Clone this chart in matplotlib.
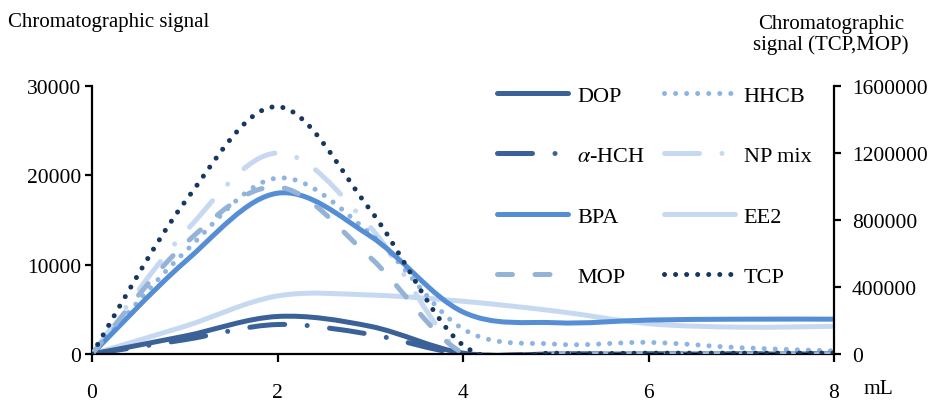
import numpy as np
import matplotlib
matplotlib.use("Agg")
import matplotlib.pyplot as plt
from matplotlib.path import Path
from matplotlib.patches import PathPatch
from matplotlib.lines import Line2D
from matplotlib.ticker import FuncFormatter

plt.rcParams['font.family'] = ['Liberation Serif', 'DejaVu Serif']
plt.rcParams['mathtext.fontset'] = 'stix'

# elution volume (mL)
volume = [0, 1, 2, 3, 4, 5, 6, 7, 8]

# left axis series
dop = [0, 2000, 4200, 3100, 100, 0, 0, 0, 0]
hch = [0, 1600, 3300, 2200, 0, 0, 0, 0, 0]
bpa = [0, 10300, 18000, 13200, 4700, 3500, 3800, 3900, 3900]
hhcb = [0, 11400, 19700, 13500, 2800, 1100, 1300, 700, 350]
np_mix = [0, 13600, 22500, 14200, 0, 0, 0, 0, 0]
ee2 = [0, 3100, 6500, 6600, 5900, 4800, 3400, 3000, 3100]

# right axis series
mop = [0, 656000, 997000, 576000, 5000, 0, 0, 0, 0]
tcp = [0, 907000, 1477000, 860000, 53000, 5000, 5000, 5000, 5000]


def smooth_path(xs, ys):
    # Catmull-Rom style cubic Bezier through the points
    pts = np.column_stack([xs, ys]).astype(float)
    n = len(pts)
    verts = [pts[0]]
    codes = [Path.MOVETO]
    for i in range(n - 1):
        p0 = pts[max(i - 1, 0)]
        p1 = pts[i]
        p2 = pts[i + 1]
        p3 = pts[min(i + 2, n - 1)]
        verts += [p1 + (p2 - p0) / 6, p2 - (p3 - p1) / 6, p2]
        codes += [Path.CURVE4] * 3
    return Path(verts, codes)


LW = 3.6
styles = {
    'DOP': dict(color='#3A6299', ls='-'),
    'HHCB': dict(color='#8DB4E2', ls=(0, (0.01, 2.2))),
    r'$\alpha$-HCH': dict(color='#3A6299', ls=(0, (7, 4.5, 0.01, 4.5))),
    'NP mix': dict(color='#C6D9F1', ls=(0, (7, 4.5, 0.01, 4.5))),
    'BPA': dict(color='#558ED5', ls='-'),
    'EE2': dict(color='#C6D9F1', ls='-'),
    'MOP': dict(color='#95B3D7', ls=(0, (3, 4.5))),
    'TCP': dict(color='#17375E', ls=(0, (0.01, 2.2))),
}

fig = plt.figure(figsize=(9.34, 4.02), dpi=100)
ax = fig.add_axes([92 / 934, 47 / 402, 742 / 934, 268 / 402])
ax2 = ax.twinx()


def draw(axis, ys, name):
    st = styles[name]
    patch = PathPatch(smooth_path(volume, ys), fill=False, edgecolor=st['color'],
                      linewidth=LW, linestyle=st['ls'], capstyle='round',
                      joinstyle='round')
    axis.add_patch(patch)


draw(ax, ee2, 'EE2')
draw(ax, np_mix, 'NP mix')
draw(ax, hhcb, 'HHCB')
draw(ax, bpa, 'BPA')
draw(ax, hch, r'$\alpha$-HCH')
draw(ax, dop, 'DOP')
draw(ax2, mop, 'MOP')
draw(ax2, tcp, 'TCP')

ax.set_xlim(0, 8)
ax.set_ylim(0, 30000)
ax2.set_ylim(0, 1600000)
ax.set_xticks([0, 2, 4, 6, 8])
ax.set_yticks([0, 10000, 20000, 30000])
ax2.set_yticks([0, 400000, 800000, 1200000, 1600000])
ax2.yaxis.set_major_formatter(FuncFormatter(lambda v, p: '%d' % v))

for a in (ax, ax2):
    for s in a.spines.values():
        s.set_visible(False)
        s.set_linewidth(1.6)
ax.spines['left'].set_visible(True)
ax.spines['bottom'].set_visible(True)
ax2.spines['right'].set_visible(True)

ax.tick_params(axis='y', direction='out', length=5, width=1.6, labelsize=15.5, pad=3)
ax.tick_params(axis='x', direction='out', length=6, width=1.6, labelsize=15.5, pad=15)
ax2.tick_params(axis='y', direction='out', length=5, width=1.6, labelsize=15.5, pad=8)

fig.text(8 / 934, 1 - 22 / 402, 'Chromatographic signal', fontsize=15,
         ha='left', va='center')
fig.text(831 / 934, 1 - 35 / 402, 'Chromatographic\nsignal (TCP,MOP)', fontsize=15,
         ha='center', va='center', linespacing=1.1)
fig.text(878 / 934, 1 - 390 / 402, 'mL', fontsize=15.5, ha='center', va='center')

order = ['DOP', r'$\alpha$-HCH', 'BPA', 'MOP', 'HHCB', 'NP mix', 'EE2', 'TCP']
handles = [Line2D([], [], color=styles[k]['color'], lw=LW, ls=styles[k]['ls'],
                  dash_capstyle='round', solid_capstyle='round') for k in order]
fig.legend(handles, order, ncol=2, loc='upper left',
           bbox_to_anchor=(497 / 934, 1 - 86 / 402), frameon=False,
           fontsize=16, handlelength=3.2, handletextpad=0.4,
           columnspacing=0.85, labelspacing=1.8, borderpad=0, borderaxespad=0)

fig.savefig('out.png', dpi=100)
